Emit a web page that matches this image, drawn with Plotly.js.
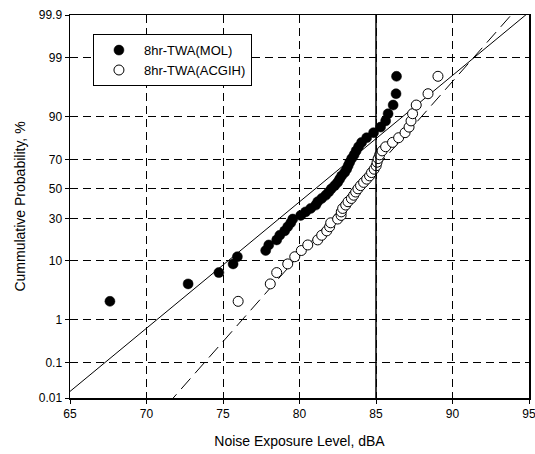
<!DOCTYPE html>
<html>
<head>
<meta charset="utf-8">
<script src="https://cdn.plot.ly/plotly-3.0.1.min.js"></script>
<style>html,body{margin:0;padding:0;background:#fff;}#chart{width:535px;height:454px;}</style>
</head>
<body>
<div id="chart"></div>
<script>
// Cumulative probability (%) for ranks 1..43 (plotting position i/(n+1))
const nPoints = 43;
const molDBA = [67.61, 72.72, 74.73, 75.66, 75.94, 77.79, 77.99, 78.51, 78.71, 79.03,
  79.23, 79.43, 79.56, 80.08, 80.40, 80.73, 81.06, 81.19, 81.45, 81.71,
  81.91, 82.08, 82.30, 82.49, 82.62, 82.75, 82.95, 83.08, 83.18, 83.28,
  83.41, 83.57, 83.70, 83.86, 84.06, 84.39, 84.84, 85.30, 85.63, 85.79,
  86.12, 86.31, 86.34];
const acgihDBA = [75.99, 78.09, 78.51, 79.23, 79.69, 80.12, 80.54, 81.19, 81.45, 81.78,
  81.97, 82.04, 82.49, 82.72, 82.73, 82.82, 83.02, 83.17, 83.39, 83.54,
  83.67, 83.82, 83.99, 84.19, 84.39, 84.58, 84.71, 84.88, 85.01, 85.07,
  85.14, 85.24, 85.40, 85.63, 86.08, 86.48, 86.90, 87.16, 87.29, 87.39,
  87.63, 88.40, 89.05];
// Fitted lognormal lines: [mean, sd] in dBA
const molFit = [81.03, 4.45];
const acgihFit = [83.81, 3.244];
const fitX = [65, 95];
const yTickLabels = ["0.01", "0.1", "1", "10", "30", "50", "70", "90", "99", "99.9"];
const xTicks = [65, 70, 75, 80, 85, 90, 95];
const limitDBA = 85;

// inverse standard normal CDF (Acklam)
function probit(p) {
  const a = [-3.969683028665376e+01, 2.209460984245205e+02, -2.759285104469687e+02, 1.383577518672690e+02, -3.066479806614716e+01, 2.506628277459239e+00];
  const b = [-5.447609879822406e+01, 1.615858368580409e+02, -1.556989798598866e+02, 6.680131188771972e+01, -1.328068155288572e+01];
  const c = [-7.784894002430293e-03, -3.223964580411365e-01, -2.400758277161838e+00, -2.549732539343734e+00, 4.374664141464968e+00, 2.938163982698783e+00];
  const d = [7.784695709041462e-03, 3.224671290700398e-01, 2.445134137142996e+00, 3.754408661907416e+00];
  const pl = 0.02425;
  let q, r;
  if (p < pl) {
    q = Math.sqrt(-2 * Math.log(p));
    return (((((c[0]*q+c[1])*q+c[2])*q+c[3])*q+c[4])*q+c[5]) / ((((d[0]*q+d[1])*q+d[2])*q+d[3])*q+1);
  } else if (p <= 1 - pl) {
    q = p - 0.5; r = q*q;
    return (((((a[0]*r+a[1])*r+a[2])*r+a[3])*r+a[4])*r+a[5])*q / (((((b[0]*r+b[1])*r+b[2])*r+b[3])*r+b[4])*r+1);
  } else {
    q = Math.sqrt(-2 * Math.log(1 - p));
    return -(((((c[0]*q+c[1])*q+c[2])*q+c[3])*q+c[4])*q+c[5]) / ((((d[0]*q+d[1])*q+d[2])*q+d[3])*q+1);
  }
}
const probZ = pct => probit(pct / 100);
const rankPct = molDBA.map((_, i) => 100 * (i + 1) / (nPoints + 1));
const rankZ = rankPct.map(probZ);
const yTickVals = yTickLabels.map(s => probZ(parseFloat(s)));

const traces = [
  {x: fitX, y: fitX.map(v => (v - molFit[0]) / molFit[1]), mode: 'lines', showlegend: false,
   line: {color: '#000', width: 1}, hoverinfo: 'skip'},
  {x: fitX, y: fitX.map(v => (v - acgihFit[0]) / acgihFit[1]), mode: 'lines', showlegend: false,
   line: {color: '#000', width: 1, dash: '14px,7px'}, hoverinfo: 'skip'},
  {x: molDBA, y: rankZ, mode: 'markers', name: '8hr-TWA(MOL)',
   marker: {symbol: 'circle', size: 10, color: '#000', line: {color: '#000', width: 0.5}}},
  {x: acgihDBA, y: rankZ, mode: 'markers', name: '8hr-TWA(ACGIH)',
   marker: {symbol: 'circle', size: 10, color: '#fff', line: {color: '#000', width: 1}}}
];

const layout = {
  width: 535, height: 454,
  margin: {l: 70, r: 6, t: 15, b: 56},
  paper_bgcolor: '#fff', plot_bgcolor: '#fff',
  font: {family: 'Liberation Sans, Arial, sans-serif', color: '#000', size: 12},
  xaxis: {
    range: [65, 95], tickvals: xTicks, ticktext: xTicks.map(String),
    ticklabeloverflow: 'allow',
    showgrid: true, gridcolor: '#000', gridwidth: 1, griddash: '8px,5px',
    zeroline: false, showline: true, linecolor: '#000', linewidth: 1.5, mirror: true,
    ticks: 'outside', ticklen: 4, tickcolor: '#000',
    tickfont: {size: 12},
    title: {text: 'Noise Exposure Level, dBA', font: {size: 14}, standoff: 16}
  },
  yaxis: {
    range: [probZ(0.01), probZ(99.9)], tickvals: yTickVals, ticktext: yTickLabels,
    showgrid: true, gridcolor: '#000', gridwidth: 1, griddash: '8px,5px',
    zeroline: false, showline: true, linecolor: '#000', linewidth: 1.5, mirror: true,
    ticks: 'outside', ticklen: 4, tickcolor: '#000',
    tickfont: {size: 12},
    title: {text: 'Cummulative Probability, %', font: {size: 14}, standoff: 10}
  },
  shapes: [
    {type: 'line', xref: 'x', yref: 'paper', x0: limitDBA, x1: limitDBA, y0: 0, y1: 1,
     line: {color: '#000', width: 1.5}}
  ],
  legend: {
    x: 0.05, y: 0.95, xanchor: 'left', yanchor: 'top',
    bgcolor: '#fff', bordercolor: '#000', borderwidth: 1,
    font: {size: 13}, tracegroupgap: 0, itemwidth: 40
  },
  showlegend: true
};

Plotly.newPlot('chart', traces, layout, {staticPlot: true, displayModeBar: false});
</script>
</body>
</html>
